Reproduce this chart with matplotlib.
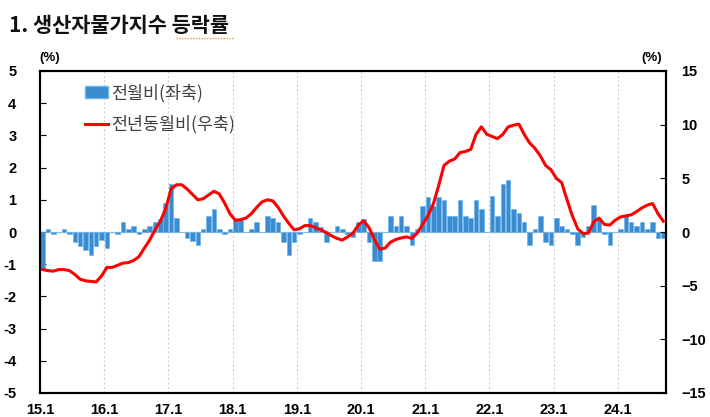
import matplotlib
matplotlib.use('Agg')
import matplotlib.pyplot as plt
import numpy as np
from matplotlib.lines import Line2D
from matplotlib.patches import Patch

plt.rcParams['font.family'] = ['Noto Sans CJK KR', 'DejaVu Sans']

# x tick labels (first month of each year)
year_labels = ['15.1', '16.1', '17.1', '18.1', '19.1', '20.1', '21.1', '22.1', '23.1', '24.1']

# month-on-month change (%), 2015.1 - 2024.9  (left axis)
mom_2015 = [-1.15, 0.1, -0.05, 0.0, 0.1, -0.05, -0.3, -0.45, -0.55, -0.7, -0.45, -0.25]
mom_2016 = [-0.5, 0.0, -0.07, 0.3, 0.1, 0.2, -0.07, 0.1, 0.2, 0.3, 0.4, 0.9]
mom_2017 = [1.5, 0.42, 0.0, -0.18, -0.28, -0.4, 0.1, 0.5, 0.7, 0.1, -0.07, 0.1]
mom_2018 = [0.4, 0.4, 0.0, 0.1, 0.32, 0.0, 0.5, 0.43, 0.31, -0.3, -0.7, -0.3]
mom_2019 = [-0.07, 0.0, 0.42, 0.3, 0.17, -0.3, 0.0, 0.2, 0.1, -0.07, -0.15, 0.32]
mom_2020 = [0.4, -0.3, -0.9, -0.9, 0.0, 0.5, 0.2, 0.5, 0.2, -0.4, 0.1, 0.82]
mom_2021 = [1.1, 0.8, 1.1, 1.0, 0.5, 0.5, 1.0, 0.5, 0.42, 1.0, 0.7, 0.0]
mom_2022 = [1.12, 0.5, 1.5, 1.6, 0.7, 0.6, 0.3, -0.4, 0.1, 0.5, -0.3, -0.4]
mom_2023 = [0.42, 0.2, 0.1, -0.07, -0.4, -0.15, 0.2, 0.84, 0.42, -0.07, -0.4, 0.0]
mom_2024 = [0.1, 0.5, 0.32, 0.2, 0.3, 0.1, 0.32, -0.18, -0.18]

# year-on-year change (%), right axis
yoy_2015 = [-3.5, -3.6, -3.65, -3.5, -3.5, -3.6, -3.95, -4.4, -4.55, -4.6, -4.65, -4.1]
yoy_2016 = [-3.3, -3.3, -3.1, -2.9, -2.85, -2.65, -2.3, -1.5, -0.75, 0.2, 1.0, 2.2]
yoy_2017 = [4.0, 4.4, 4.4, 4.0, 3.5, 3.0, 3.1, 3.45, 3.8, 3.55, 2.7, 1.7]
yoy_2018 = [1.1, 1.15, 1.3, 1.7, 2.3, 2.8, 3.0, 2.9, 2.3, 1.5, 0.8, 0.2]
yoy_2019 = [0.3, 0.6, 0.6, 0.4, 0.2, -0.05, -0.35, -0.6, -0.75, -0.45, -0.1, 0.65]
yoy_2020 = [1.05, 0.4, -0.7, -1.6, -1.5, -0.95, -0.7, -0.55, -0.45, -0.6, -0.1, 0.7]
yoy_2021 = [1.5, 2.6, 4.3, 6.2, 6.6, 6.8, 7.4, 7.5, 7.7, 9.1, 9.8, 9.1]
yoy_2022 = [8.9, 8.7, 9.1, 9.8, 9.95, 10.05, 9.1, 8.3, 7.8, 7.1, 6.2, 5.8]
yoy_2023 = [5.0, 4.6, 3.0, 1.5, 0.3, -0.15, -0.1, 0.95, 1.3, 0.7, 0.65, 1.1]
yoy_2024 = [1.4, 1.5, 1.6, 1.9, 2.25, 2.5, 2.65, 1.7, 1.0]

mom = (mom_2015 + mom_2016 + mom_2017 + mom_2018 + mom_2019 +
       mom_2020 + mom_2021 + mom_2022 + mom_2023 + mom_2024)
yoy = (yoy_2015 + yoy_2016 + yoy_2017 + yoy_2018 + yoy_2019 +
       yoy_2020 + yoy_2021 + yoy_2022 + yoy_2023 + yoy_2024)
n = len(mom)
x = np.arange(n)

BAR = '#3a8bd0'
BAR_EDGE = '#6cb6ee'

fig = plt.figure(figsize=(7.1, 4.17), dpi=100)
ax = fig.add_axes([40/710, 24/417, 626/710, 322/417])
ax2 = ax.twinx()

ax.set_xlim(-0.5, n - 0.5)
ax.set_ylim(-5, 5)
ax2.set_ylim(-15, 15)

# year gridlines
for k in range(1, 10):
    ax.axvline(12*k - 0.5, color='#d0d0d0', lw=0.8, ls=(0, (2, 2)), zorder=0)
ax.axhline(0, color='#c8c8c8', lw=1.0, zorder=1)

ax.bar(x, mom, width=0.85, color=BAR, edgecolor=BAR_EDGE, linewidth=0.5, zorder=2)
ax2.plot(x, yoy, color='#ff0000', lw=2.2, solid_joinstyle='round', zorder=3)

tick_font = dict(family='Liberation Sans', weight='bold', size=10.5)

ax.set_xticks([12*k - 0.5 for k in range(len(year_labels))])
ax.set_xticklabels(year_labels, **tick_font)
ax.tick_params(axis='x', length=0, pad=7)

ax.set_yticks(range(-5, 6))
ax.set_yticklabels([str(v) if v >= 0 else '-' + str(-v) for v in range(-5, 6)], **tick_font)
ax.tick_params(axis='y', direction='in', length=4, width=0.8, pad=17)

r_ticks = list(range(-15, 16, 5))
ax2.set_yticks(r_ticks)
ax2.set_yticklabels([str(v) if v >= 0 else '\u2212' + str(-v) for v in r_ticks], **tick_font)
ax2.tick_params(axis='y', direction='in', length=4, width=0.8, pad=11)

for a in (ax, ax2):
    for s in a.spines.values():
        s.set_linewidth(1.5)
        s.set_color('black')

# title
fig.text(9/710, 1 - 26/417, '1. 생산자물가지수 등락률', fontsize=15, fontweight='bold',
         va='center', ha='left', color='#111111')
fig.add_artist(Line2D([176/710, 233/710], [1 - 38/417, 1 - 38/417], color='#f0a040',
                      lw=1.0, ls=(0, (1, 1))))

# unit labels
fig.text(50/710, 1 - 58/417, '(%)', ha='center', va='center', fontsize=9.5,
         fontweight='bold', family='Liberation Sans')
fig.text(652/710, 1 - 58/417, '(%)', ha='center', va='center', fontsize=9.5,
         fontweight='bold', family='Liberation Sans')

handles = [Patch(facecolor=BAR, edgecolor=BAR_EDGE),
           Line2D([0], [0], color='#ff0000', lw=2.2)]
leg = ax2.legend(handles, ['전월비(좌축)', '전년동월비(우축)'], loc='upper left',
                 bbox_to_anchor=(0.072, 0.96), frameon=False, fontsize=12.5,
                 labelspacing=0.75, handlelength=1.3, handletextpad=0.2,
                 borderaxespad=0, borderpad=0)
for t in leg.get_texts():
    t.set_color('#404040')

fig.savefig('out.png', dpi=100)
